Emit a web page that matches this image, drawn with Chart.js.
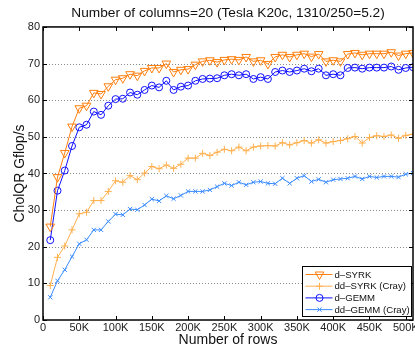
<!DOCTYPE html>
<html>
<head>
<meta charset="utf-8">
<script src="https://cdn.jsdelivr.net/npm/chart.js@4.4.0/dist/chart.umd.min.js"></script>
<style>
  html, body { margin: 0; padding: 0; background: #fff; }
  #wrap { width: 415px; height: 348px; }
</style>
</head>
<body>
<div id="wrap"><canvas id="cholqrChart" width="415" height="348"></canvas></div>
<script>
// Number of rows (x), 10K .. 510K
const rows = [];
for (let r = 10000; r <= 510000; r += 10000) rows.push(r);

// Gflop/s
const dSyrk = [
  25.5, 39.0, 45.6, 52.8, 57.8, 58.5, 62.0, 61.7, 63.8, 65.6,
  66.0, 67.1, 66.7, 68.0, 68.8, 68.8, 70.0, 67.7, 68.3, 68.5,
  69.7, 70.6, 70.9, 70.4, 71.0, 71.2, 71.0, 71.8, 70.6, 70.9,
  69.9, 71.8, 72.4, 71.8, 72.4, 72.7, 71.9, 72.6, 70.6, 70.9,
  70.6, 72.6, 72.9, 72.4, 72.7, 72.7, 72.7, 73.1, 72.2, 72.7,
  72.9
];
const ddSyrk = [
  9.4, 17.1, 20.2, 24.6, 29.0, 29.4, 32.6, 32.6, 35.1, 38.0,
  37.6, 39.4, 38.3, 40.1, 41.9, 41.3, 42.3, 41.4, 42.5, 44.2,
  44.2, 45.5, 44.9, 45.8, 46.6, 46.2, 47.2, 46.2, 47.2, 47.5,
  47.6, 47.5, 48.4, 47.8, 48.4, 49.0, 48.3, 49.2, 48.3, 48.7,
  49.0, 49.5, 50.1, 48.3, 49.8, 50.3, 50.1, 50.5, 49.6, 50.4,
  50.7
];
const dGemm = [
  21.8, 35.3, 40.8, 47.5, 52.6, 53.3, 56.9, 56.0, 58.5, 60.3,
  60.4, 62.1, 61.5, 62.8, 64.0, 63.5, 65.3, 62.8, 63.7, 64.0,
  65.3, 65.8, 65.9, 66.0, 66.8, 67.1, 66.8, 67.1, 65.8, 66.3,
  65.8, 67.7, 68.1, 67.7, 68.1, 68.6, 67.9, 68.6, 66.8, 67.1,
  66.8, 68.8, 68.9, 68.6, 68.9, 68.9, 68.9, 69.2, 68.3, 68.8,
  69.0
];
const ddGemm = [
  6.2, 10.7, 13.7, 17.3, 20.8, 21.9, 24.6, 24.6, 26.9, 28.9,
  28.7, 30.3, 30.1, 31.4, 33.0, 32.5, 33.9, 33.1, 34.0, 35.1,
  35.1, 35.1, 35.5, 36.4, 37.3, 36.7, 37.6, 36.9, 37.6, 37.8,
  37.3, 37.2, 38.7, 37.3, 38.7, 39.4, 37.8, 38.4, 37.6, 38.3,
  38.5, 38.7, 39.2, 38.5, 39.2, 38.9, 39.2, 39.2, 39.0, 39.8,
  40.1
];

const seriesLabels = ['d\u2013SYRK', 'dd\u2013SYRK (Cray)', 'd\u2013GEMM', 'dd\u2013GEMM (Cray)'];
const xTickValues = [0, 50000, 100000, 150000, 200000, 250000, 300000, 350000, 400000, 450000, 500000];
const yTickValues = [0, 10, 20, 30, 40, 50, 60, 70, 80];

const FONT = "'Liberation Sans', Arial, Helvetica, sans-serif";

function toPoints(values) {
  return values.map((v, i) => ({ x: rows[i], y: v }));
}

function makeSet(label, values, color, style, radius, rotation) {
  return {
    label,
    data: toPoints(values),
    borderColor: color,
    backgroundColor: 'rgba(0,0,0,0)',
    borderWidth: 1,
    pointStyle: style,
    pointRadius: radius,
    pointRotation: rotation || 0,
    pointBorderColor: color,
    pointBackgroundColor: 'rgba(0,0,0,0)',
    pointBorderWidth: 1,
    tension: 0
  };
}

// Box, dotted y grid and inward ticks (MATLAB style)
const frame = {
  id: 'frame',
  beforeDatasetsDraw(chart) {
    const { ctx, chartArea: a, scales } = chart;
    ctx.save();
    ctx.strokeStyle = '#8c8c8c';
    ctx.lineWidth = 1;
    ctx.setLineDash([1, 2]);
    yTickValues.forEach(v => {
      if (v === 0 || v === 80) return;
      const y = Math.round(scales.y.getPixelForValue(v)) + 0.5;
      ctx.beginPath();
      ctx.moveTo(a.left, y);
      ctx.lineTo(a.right, y);
      ctx.stroke();
    });
    ctx.restore();
  },
  afterDatasetsDraw(chart) {
    const { ctx, chartArea: a, scales } = chart;
    ctx.save();
    ctx.strokeStyle = '#000';
    ctx.lineWidth = 1;
    xTickValues.forEach(v => {
      const x = Math.round(scales.x.getPixelForValue(v)) + 0.5;
      ctx.beginPath();
      ctx.moveTo(x, a.bottom); ctx.lineTo(x, a.bottom - 4);
      ctx.moveTo(x, a.top); ctx.lineTo(x, a.top + 4);
      ctx.stroke();
    });
    yTickValues.forEach(v => {
      const y = Math.round(scales.y.getPixelForValue(v)) + 0.5;
      ctx.beginPath();
      ctx.moveTo(a.left, y); ctx.lineTo(a.left + 4, y);
      ctx.moveTo(a.right, y); ctx.lineTo(a.right - 4, y);
      ctx.stroke();
    });
    ctx.lineWidth = 1.5;
    ctx.strokeRect(a.left, a.top, a.right - a.left, a.bottom - a.top);

    // legend box in the lower right corner
    const boxW = 109, boxH = 50, rowH = 11.7;
    const bx = Math.round(a.right - boxW - 2) + 0.5;
    const by = Math.round(a.bottom - boxH - 4) + 0.5;
    ctx.fillStyle = '#fff';
    ctx.fillRect(bx, by, boxW, boxH);
    ctx.lineWidth = 1;
    ctx.strokeRect(bx, by, boxW, boxH);
    ctx.font = '9.6px ' + FONT;
    ctx.textBaseline = 'middle';
    ctx.textAlign = 'left';
    chart.data.datasets.forEach((ds, i) => {
      const cy = by + 8 + i * rowH;
      ctx.strokeStyle = ds.borderColor;
      ctx.lineWidth = 1;
      ctx.beginPath();
      ctx.moveTo(bx + 3, cy);
      ctx.lineTo(bx + 30, cy);
      ctx.stroke();
      ctx.fillStyle = 'rgba(0,0,0,0)';
      Chart.helpers.drawPoint(ctx, {
        pointStyle: ds.pointStyle,
        radius: ds.pointRadius,
        rotation: ds.pointRotation,
        borderWidth: 1
      }, bx + 17, cy);
      ctx.fillStyle = '#111';
      ctx.fillText(ds.label, bx + 32, cy + 0.5);
    });
    ctx.restore();
  }
};

const config = {
  type: 'line',
  data: {
    datasets: [
      makeSet(seriesLabels[0], dSyrk, '#ff7f0e', 'triangle', 5, 180),
      makeSet(seriesLabels[1], ddSyrk, '#ffb04f', 'cross', 3.5),
      makeSet(seriesLabels[2], dGemm, '#1010ff', 'circle', 3.5),
      makeSet(seriesLabels[3], ddGemm, '#3a8cff', 'crossRot', 3)
    ]
  },
  options: {
    responsive: false,
    animation: false,
    layout: { autoPadding: false, padding: { left: 0, right: 2, top: 0, bottom: 0 } },
    plugins: {
      legend: { display: false },
      tooltip: { enabled: false },
      title: {
        display: true,
        fullSize: false,
        text: 'Number of columns=20 (Tesla K20c, 1310/250=5.2)',
        color: '#111',
        font: { family: FONT, size: 13.7, weight: 'normal', lineHeight: 1.2 },
        padding: { top: 5, bottom: 5.5 }
      }
    },
    scales: {
      x: {
        type: 'linear',
        min: 0,
        max: 510000,
        grid: { display: false, drawTicks: false },
        border: { display: false },
        afterBuildTicks: s => { s.ticks = xTickValues.map(v => ({ value: v })); },
        afterFit: s => {
          s.height = 28;
          s.paddingLeft = 0;
          s.paddingRight = 0;
        },
        ticks: {
          color: '#222',
          font: { family: FONT, size: 11 },
          padding: 1,
          maxRotation: 0,
          autoSkip: false,
          callback: v => (v === 0 ? '0' : (v / 1000) + 'K')
        },
        title: {
          display: true,
          text: 'Number of rows',
          color: '#111',
          font: { family: FONT, size: 14, lineHeight: 1 },
          padding: { top: 0, bottom: 1 }
        }
      },
      y: {
        min: 0,
        max: 80,
        grid: { display: false, drawTicks: false },
        border: { display: false },
        afterBuildTicks: s => { s.ticks = yTickValues.map(v => ({ value: v })); },
        afterFit: s => {
          s.width = 43;
          s.paddingTop = 0;
          s.paddingBottom = 0;
        },
        ticks: {
          color: '#222',
          font: { family: FONT, size: 11 },
          padding: 3
        },
        title: {
          display: true,
          text: 'CholQR Gflop/s',
          color: '#111',
          font: { family: FONT, size: 14, lineHeight: 1.2 },
          padding: { top: 12, bottom: 0 }
        }
      }
    }
  },
  plugins: [frame]
};

new Chart(document.getElementById('cholqrChart').getContext('2d'), config);
</script>
</body>
</html>
